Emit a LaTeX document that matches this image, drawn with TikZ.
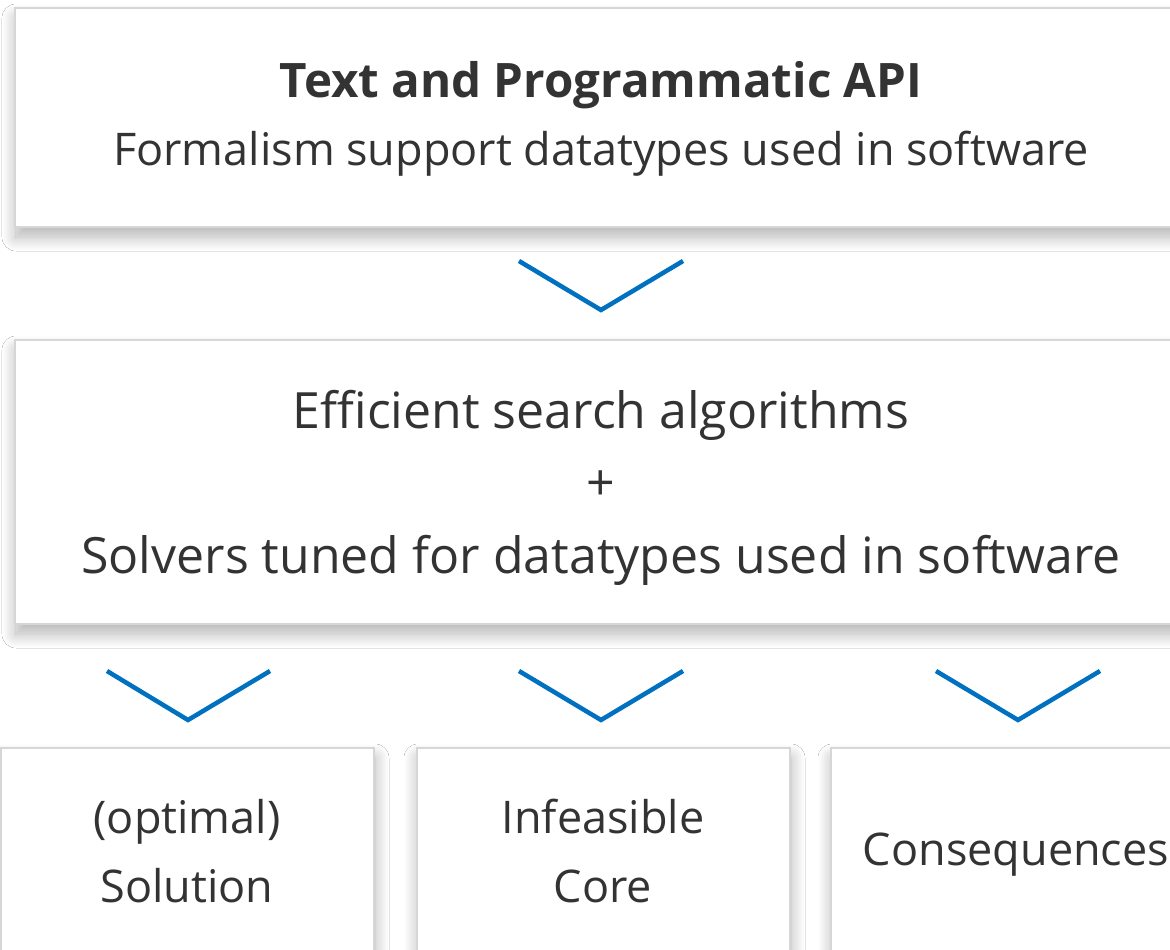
\documentclass[tikz,border=0pt]{standalone}
\usepackage{fontspec}
\setmainfont{Open Sans}
\usetikzlibrary{shadows.blur}
\definecolor{ink}{HTML}{333333}
\definecolor{edge}{HTML}{D6D6D6}
\definecolor{chev}{HTML}{0070C0}
\tikzset{
  card/.style={draw=edge, line width=2pt, fill=white, rectangle, inner sep=0pt,
    blur shadow={shadow xshift=1pt, shadow yshift=-10pt, shadow blur radius=14pt,
      shadow blur steps=16, shadow opacity=30}},
  label/.style={text=ink, align=center, inner sep=0pt},
  big/.style={label, font=\fontsize{50}{60}\selectfont},
  mid/.style={label, font=\fontsize{45}{54}\selectfont},
  chevron/.style={draw=chev, line width=4.5pt, line join=miter}
}
\begin{document}
\begin{tikzpicture}[x=1pt, y=-1pt]
  \useasboundingbox (0,0) rectangle (1170,950);
  \clip (0,0) rectangle (1170,950);
  \fill[white] (0,0) rectangle (1170,950);

  % boxes
  \node[card, minimum width=1174pt, minimum height=219pt, anchor=north west] (api) at (14,7) {};
  \node[card, minimum width=1174pt, minimum height=284pt, anchor=north west] (search) at (14,339) {};
  \node[card, minimum width=373pt, minimum height=280pt, anchor=north west] (sol) at (0,747) {};
  \node[card, minimum width=373pt, minimum height=280pt, anchor=north west] (core) at (416,747) {};
  \node[card, minimum width=373pt, minimum height=280pt, anchor=north west] (cons) at (830,747) {};

  % texts
  \node[label, anchor=base, font=\fontsize{47.5}{56}\selectfont\bfseries] (apiT) at (601,97) {Text and Programmatic API};
  \node[mid, anchor=base] (apiS) at (601,165) {Formalism support datatypes used in software};
  \node[big, anchor=base] (s1) at (601,428) {Efficient search algorithms};
  \node[big, anchor=base] (s2) at (601,500) {+};
  \node[big, anchor=base] (s3) at (601,573) {Solvers tuned for datatypes used in software};
  \node[mid, anchor=base] (solA) at (187,833) {(optimal)};
  \node[mid, anchor=base] (solB) at (187,902) {Solution};
  \node[mid, anchor=base] (coreA) at (603,833) {Infeasible};
  \node[mid, anchor=base] (coreB) at (603,902) {Core};
  \node[mid, anchor=base] (consT) at (1016,865) {Consequences};

  % chevrons
  \draw[chevron] (519,261) -- (601,310) -- (683,261);
  \draw[chevron] (107,671) -- (188,720) -- (270,671);
  \draw[chevron] (519,671) -- (601,720) -- (683,671);
  \draw[chevron] (936,671) -- (1018,720) -- (1100,671);
\end{tikzpicture}
\end{document}
